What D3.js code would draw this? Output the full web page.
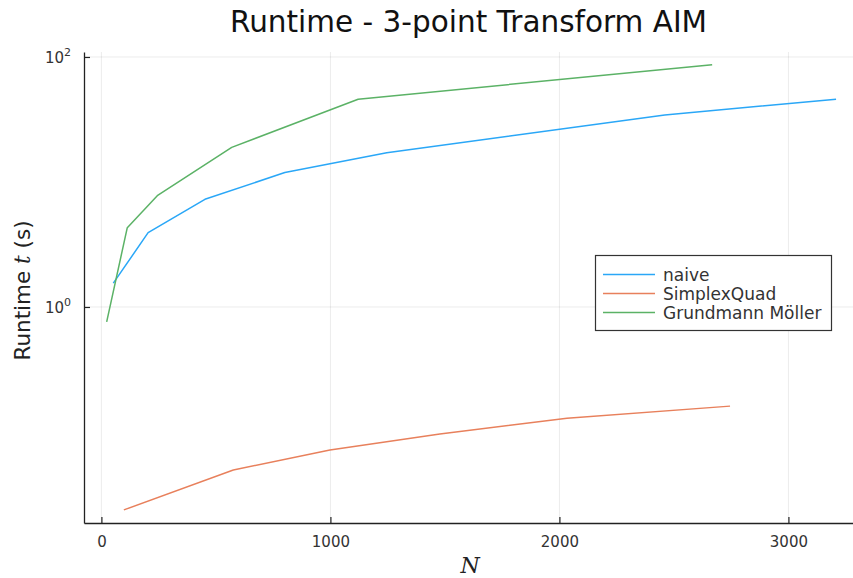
<!DOCTYPE html>
<html>
<head>
<meta charset="utf-8">
<script src="https://cdn.jsdelivr.net/npm/d3@7"></script>
<style>
  html, body { margin: 0; padding: 0; background: #fff; }
  svg { display: block; font-family: "DejaVu Sans", sans-serif; }
</style>
</head>
<body>
<svg id="chart" width="853" height="578"></svg>
<script>
// Runtime measurements (seconds) against problem size N
const naiveN = [52, 204, 452, 801, 1246, 2460, 3208];
const naiveT = [1.55, 3.93, 7.27, 11.9, 17.1, 34.4, 45.9];
const simplexN = [98, 576, 998, 1478, 2033, 2745];
const simplexT = [0.0238, 0.0497, 0.0718, 0.0964, 0.129, 0.161];
const gmN = [23, 113, 244, 569, 1121, 2667];
const gmT = [0.76, 4.31, 7.77, 18.9, 45.9, 86.8];

const seriesNames = ["naive", "SimplexQuad", "Grundmann Möller"];
const seriesColors = ["#2AA7F7", "#E8805C", "#5BB266"];
const xTicks = [0, 1000, 2000, 3000];
const yTickExponents = [0, 2];

const series = [
  { name: seriesNames[0], color: seriesColors[0], n: naiveN, t: naiveT },
  { name: seriesNames[1], color: seriesColors[1], n: simplexN, t: simplexT },
  { name: seriesNames[2], color: seriesColors[2], n: gmN, t: gmT }
];

const svg = d3.select("#chart");
const plotLeft = 84, plotRight = 853, plotTop = 52, plotBottom = 523;

const x = d3.scaleLinear().domain([-76, 3282]).range([plotLeft, plotRight]);
const y = d3.scaleLog().domain([0.0187, 109.6]).range([plotBottom, plotTop]);

// grid
const grid = svg.append("g").attr("stroke", "#000").attr("stroke-opacity", 0.08).attr("stroke-width", 1);
grid.selectAll("line.vx").data(xTicks).join("line")
  .attr("x1", d => x(d)).attr("x2", d => x(d))
  .attr("y1", plotTop).attr("y2", plotBottom);
grid.selectAll("line.hy").data(yTickExponents).join("line")
  .attr("x1", plotLeft).attr("x2", plotRight)
  .attr("y1", d => y(Math.pow(10, d))).attr("y2", d => y(Math.pow(10, d)));

// series lines
const line = d3.line().x(d => x(d[0])).y(d => y(d[1]));
svg.append("g").selectAll("path").data(series).join("path")
  .attr("fill", "none")
  .attr("stroke", d => d.color)
  .attr("stroke-width", 1.5)
  .attr("stroke-linejoin", "round")
  .attr("d", d => line(d.n.map((v, i) => [v, d.t[i]])));

// axes (ticks pointing inward)
const xAxis = d3.axisBottom(x).tickValues(xTicks).tickFormat(d3.format("d"))
  .tickSizeInner(-6).tickSizeOuter(0).tickPadding(13);
const gx = svg.append("g").attr("transform", `translate(0,${plotBottom})`).call(xAxis);
gx.select(".domain").attr("stroke", "#222").attr("stroke-width", 1.3);
gx.selectAll(".tick line").attr("stroke", "#222").attr("stroke-width", 1.2);
gx.selectAll(".tick text").attr("font-size", 15).attr("fill", "#333")
  .attr("font-family", "DejaVu Sans, sans-serif");

const yAxis = d3.axisLeft(y).tickValues(yTickExponents.map(e => Math.pow(10, e)))
  .tickSizeInner(-6).tickSizeOuter(0).tickFormat("");
const gy = svg.append("g").attr("transform", `translate(${plotLeft},0)`).call(yAxis);
gy.select(".domain").attr("stroke", "#222").attr("stroke-width", 1.3);
gy.selectAll(".tick line").attr("stroke", "#222").attr("stroke-width", 1.2);

// power-of-ten labels
const yl = svg.append("g").selectAll("text").data(yTickExponents).join("text")
  .attr("x", 71).attr("y", d => y(Math.pow(10, d)) + 6)
  .attr("text-anchor", "end").attr("font-size", 15).attr("fill", "#333");
yl.append("tspan").text("10");
yl.append("tspan").attr("dy", -7).attr("font-size", 11).text(d => d);

// title
svg.append("text").attr("x", (plotLeft + plotRight) / 2).attr("y", 32)
  .attr("text-anchor", "middle").attr("font-size", 29.5).attr("fill", "#111")
  .text("Runtime - 3-point Transform AIM");

// axis labels
svg.append("text").attr("x", 470).attr("y", 573)
  .attr("text-anchor", "middle").attr("font-size", 22).attr("fill", "#222")
  .attr("font-family", "DejaVu Serif, serif").attr("font-style", "italic")
  .text("N");

const ylab = svg.append("text")
  .attr("transform", `translate(30,${(plotTop + plotBottom) / 2 + 3}) rotate(-90)`)
  .attr("text-anchor", "middle").attr("font-size", 21.5).attr("fill", "#222");
ylab.append("tspan").text("Runtime ");
ylab.append("tspan").attr("font-family", "DejaVu Serif, serif").attr("font-style", "italic").text("t");
ylab.append("tspan").text(" (s)");

// legend
const lg = svg.append("g");
lg.append("rect").attr("x", 595.5).attr("y", 255.5).attr("width", 236).attr("height", 75)
  .attr("fill", "#fff").attr("stroke", "#333").attr("stroke-width", 1.2);
const rows = lg.selectAll("g.row").data(series).join("g")
  .attr("transform", (d, i) => `translate(0,${274.5 + i * 19})`);
rows.append("line").attr("x1", 603).attr("x2", 655).attr("y1", 0).attr("y2", 0)
  .attr("stroke", d => d.color).attr("stroke-width", 1.5);
rows.append("text").attr("x", 663).attr("y", 6).attr("font-size", 17).attr("fill", "#333")
  .text(d => d.name);
</script>
</body>
</html>
